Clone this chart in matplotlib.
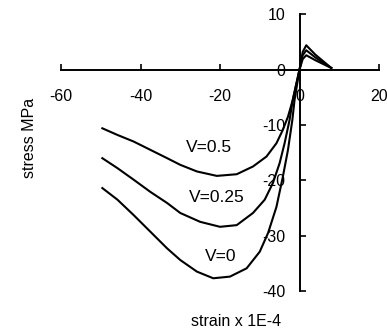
import numpy as np
from matplotlib import pyplot as plt

plt.rcParams['font.family'] = ['Liberation Sans', 'DejaVu Sans']
plt.rcParams['axes.unicode_minus'] = False

# stress-strain curves (strain x 1E-4, stress MPa)
strain_v05 = [-49.6, -45.8, -41.7, -37.5, -33.3, -30.0, -25.8, -20.8, -15.8, -11.7, -8.3, -5.8, -4.2, -2.9, -1.7,
              0.0, 0.8, 1.7, 4.0, 8.0]
stress_v05 = [-10.6, -11.8, -13.0, -14.5, -16.0, -17.2, -18.4, -19.2, -18.9, -17.5, -15.7, -13.3, -10.9, -8.5, -5.5,
              0.0, 3.2, 4.4, 2.7, 0.3]

strain_v025 = [-49.6, -45.8, -41.7, -37.5, -33.3, -30.0, -25.0, -20.0, -15.8, -11.7, -8.75, -6.7, -5.0, -3.75, -2.5,
               -1.7, 0.0, 0.8, 1.7, 4.0, 8.0]
stress_v025 = [-16.0, -17.8, -19.9, -22.1, -24.1, -25.9, -27.5, -28.4, -28.1, -25.9, -23.5, -20.5, -16.9, -13.3, -9.1,
               -5.5, 0.0, 2.6, 3.5, 2.2, 0.3]

strain_v0 = [-49.6, -45.8, -41.7, -37.5, -33.3, -30.0, -25.8, -21.7, -17.5, -13.3, -10.0, -7.9, -5.8, -4.2, -2.9,
             -1.8, -1.25, 0.0, 0.8, 1.7, 4.0, 8.0]
stress_v0 = [-21.4, -23.5, -26.3, -29.3, -32.3, -34.4, -36.5, -37.7, -37.4, -35.9, -32.9, -29.5, -24.8, -19.4, -14.5,
             -9.1, -5.5, 0.0, 1.9, 2.6, 1.7, 0.3]

curve_labels = ["V=0.5", "V=0.25", "V=0"]
label_pos = [(-22.75, -14.1), (-20.8, -23.1), (-19.75, -33.8)]

x_ticks = [-60, -40, -20, 0, 20]
y_ticks = [10, 0, -10, -20, -30, -40]

fig = plt.figure(figsize=(3.87, 3.34), dpi=100)
ax = fig.add_axes([61 / 387, 43 / 334, 318 / 387, 276.7 / 334])

for xs, ys in [(strain_v05, stress_v05), (strain_v025, stress_v025), (strain_v0, stress_v0)]:
    ax.plot(xs, ys, color='black', lw=1.5, solid_joinstyle='round')

for txt, (tx, ty) in zip(curve_labels, label_pos):
    ax.text(tx, ty, txt, fontsize=12.5, ha='center', va='center')

ax.set_xlim(-60, 20)
ax.set_ylim(-40, 10)
ax.spines['left'].set_position(('data', 0))
ax.spines['bottom'].set_position(('data', 0))
ax.spines['top'].set_visible(False)
ax.spines['right'].set_visible(False)
for s in ['left', 'bottom']:
    ax.spines[s].set_linewidth(1.4)

ax.set_xticks(x_ticks)
ax.set_yticks(y_ticks)
ax.tick_params(axis='both', direction='in', length=4, width=1.2, labelsize=11.5)
ax.tick_params(axis='x', pad=14)
ax.tick_params(axis='y', pad=10)
ax.patch.set_visible(False)

fig.text(29 / 387, 1 - 138 / 334, "stress MPa", rotation=90, ha='center', va='center', fontsize=11.5)
fig.text(236 / 387, 1 - 322 / 334, "strain x 1E-4", ha='center', va='center', fontsize=11.5)

fig.savefig("out.png", dpi=100)
